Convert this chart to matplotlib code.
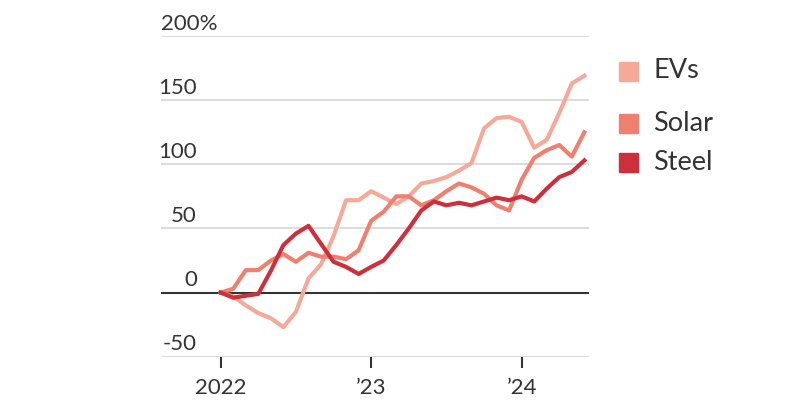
import numpy as np
import matplotlib
matplotlib.use("Agg")
import matplotlib.pyplot as plt
from matplotlib.patches import Rectangle

# dados mensais, jan 2022 ate jun 2024 (variacao em %)
meses = np.arange(30)
evs = [0, -3, -10, -16, -20, -27, -15, 11, 22, 44, 72, 72,
       79, 74, 69, 75, 85, 87, 90, 95, 101, 128, 136, 137,
       133, 113, 119, 140, 163, 169]
solar = [0, 3, 17.5, 17.5, 25, 30, 24, 31, 28, 28, 26, 33,
         56, 63, 75, 75, 68, 72, 79, 85, 82, 77, 68, 64,
         88, 105, 111, 115, 106, 125]
steel = [0, -4, -2.5, -1, 17, 37, 46, 52, 38, 24, 20, 14.5,
         20, 25, 37, 50, 64, 71, 68, 70, 68, 71, 74, 72,
         75, 71, 81, 90, 94, 103]

series = ["EVs", "Solar", "Steel"]
cores = ["#f4a999", "#ef8070", "#cd2f3d"]

y_ticks = [-50, 0, 50, 100, 150, 200]
y_labels = ["-50", "0", "50", "100", "150", "200%"]
x_ticks = [0, 12, 24]
x_labels = ["2022", "\u201923", "\u201924"]

plt.rcParams['font.family'] = ['Lato', 'DejaVu Sans']
texto = "#333333"

fig = plt.figure(figsize=(8, 4.18), dpi=100)
ax = fig.add_axes([161/800, 1 - 356.7/418, 428/800, (356.7 - 36)/418])

ax.set_xlim(-4.76, 29.37)
ax.set_ylim(-50, 200)

# grade
for v in y_ticks:
    if v == 0:
        continue
    ax.axhline(v, color="#dcdcdc", lw=1.4, zorder=1)
ax.axhline(0, color="#333333", lw=1.5, zorder=2)

for dados, cor in zip([evs, solar, steel], cores):
    ax.plot(meses, dados, color=cor, lw=3, zorder=3, clip_on=False)

# rotulos do eixo y, acima das linhas
for v, lab in zip(y_ticks, y_labels):
    if lab.endswith("%"):
        ax.text(0.0, v + 5, lab, transform=ax.get_yaxis_transform(),
                ha="left", va="baseline", fontsize=16, color=texto)
    else:
        ax.text(0.084, v + 5, lab, transform=ax.get_yaxis_transform(),
                ha="right", va="baseline", fontsize=16, color=texto)

ax.set_yticks([])
ax.set_xticks(x_ticks)
ax.set_xticklabels(x_labels, fontsize=16, color=texto)
ax.tick_params(axis="x", length=8, width=1.5, color="#333333", pad=7)
for s in ax.spines.values():
    s.set_visible(False)

# legenda manual
leg_y = [71, 123.5, 162.5]
for nome, cor, yc in zip(series, cores, leg_y):
    fig.patches.append(Rectangle((619/800, 1 - (yc + 9.5)/418), 19/800, 19/418,
                                 transform=fig.transFigure, color=cor))
    fig.text(653/800, 1 - yc/418, nome, ha="left", va="center",
             fontsize=19.5, color=texto)

fig.savefig("out.png", dpi=100)
